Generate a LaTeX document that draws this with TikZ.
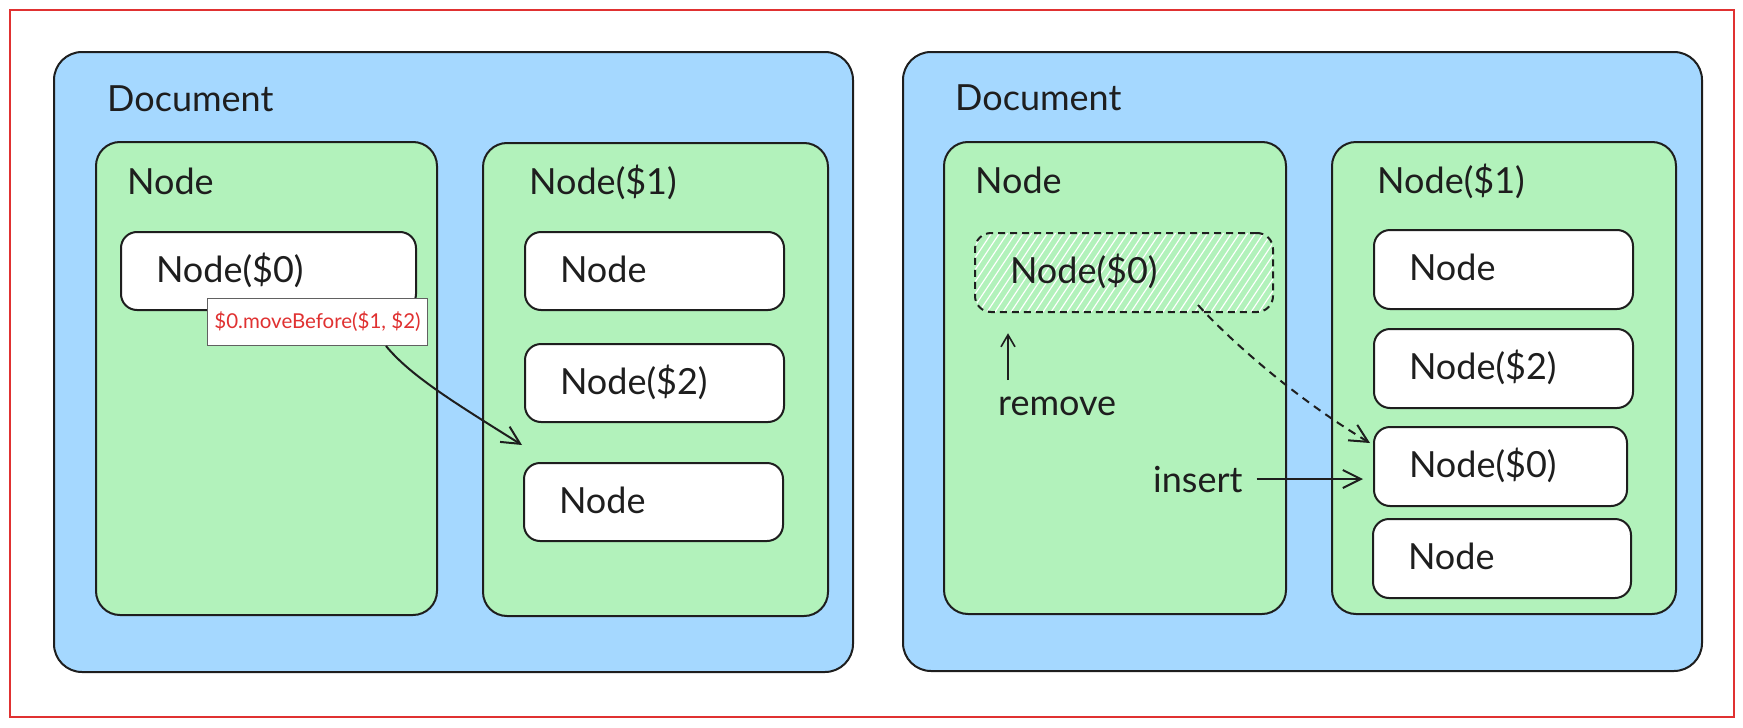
\documentclass[tikz,border=0pt]{standalone}
\usepackage{fontspec}
\setmainfont{Lato}
\usetikzlibrary{arrows.meta, positioning, calc}
\definecolor{docblue}{HTML}{A5D8FF}
\definecolor{nodegreen}{HTML}{B2F2BB}
\definecolor{ink}{HTML}{1E1E1E}
\definecolor{framered}{HTML}{E03131}

\tikzset{
  docbox/.style={draw=ink, fill=docblue, line width=2pt, rounded corners=28pt,
    anchor=north west, outer sep=0pt, inner sep=0pt},
  nodebox/.style={draw=ink, fill=nodegreen, line width=2pt, rounded corners=24pt,
    anchor=north west, outer sep=0pt, inner sep=0pt},
  itembox/.style={draw=ink, fill=white, line width=2pt, rounded corners=16pt,
    anchor=north west, outer sep=0pt, minimum height=78pt, text width=189pt,
    inner xsep=35pt, align=left, text=ink, font=\fontsize{36}{40}\selectfont,
    text height=28pt, text depth=6pt},
  ghostbox/.style={itembox, fill=nodegreen, dash pattern=on 7pt off 5pt,
    path picture={
      \foreach \k in {0,8,...,380}
        \draw[white, solid, line width=1.2pt] ([xshift=\k pt-60pt]path picture bounding box.south west) -- ++(60pt,90pt);
    }},
  title/.style={anchor=base west, inner sep=0pt, text=ink, font=\fontsize{36}{40}\selectfont},
  callout/.style={draw=ink!70, fill=white, line width=1pt, anchor=north west,
    minimum width=220pt, minimum height=47pt, inner sep=0pt, text=framered,
    font=\fontsize{20.5}{24}\selectfont},
  barb/.style={draw=ink, line width=2pt, -{Straight Barb[length=18pt,width=18pt]}}
}

\begin{document}
\begin{tikzpicture}[x=1pt, y=-1pt]
  \useasboundingbox (0,0) rectangle (1743,728);
  \draw[framered, line width=2.5pt] (10,10) rectangle (1734,717);

  % before: $0 still in the first node
  \node[docbox, minimum width=799pt, minimum height=620pt] (docL) at (54,52) {};
  \node[title] (docLt) at (107,111) {Document};
  \node[nodebox, minimum width=341pt, minimum height=473pt] (nodeL) at (96,142) {};
  \node[title] (nodeLt) at (127,194) {Node};
  \node[nodebox, minimum width=345pt, minimum height=473pt] (parL) at (483,143) {};
  \node[title] (parLt) at (529,194) {Node(\$1)};

  \node[itembox, text width=225pt] (srcL) at (121,232) {Node(\$0)};
  \node[itembox] (aL) at (525,232) {Node};
  \node[itembox] (bL) at (525,344) {Node(\$2)};
  \node[itembox] (cL) at (524,463) {Node};

  \node[callout] (call) at (207,298) {\$0.moveBefore(\$1, \$2)};
  \coordinate (tipL) at (522,445);
  \draw[barb] ([xshift=-42pt]call.south east) .. controls (410,375) and (450,400) .. (tipL);

  % after: removed and inserted before $2
  \node[docbox, minimum width=799pt, minimum height=619pt] (docR) at (903,52) {};
  \node[title] (docRt) at (955,110) {Document};
  \node[nodebox, minimum width=342pt, minimum height=472pt] (nodeR) at (944,142) {};
  \node[title] (nodeRt) at (975,193) {Node};
  \node[nodebox, minimum width=344pt, minimum height=472pt] (parR) at (1332,142) {};
  \node[title] (parRt) at (1377,193) {Node(\$1)};

  \node[ghostbox, text width=228pt, minimum height=79pt] (ghost) at (975,233) {Node(\$0)};
  \node[itembox, minimum height=79pt] (aR) at (1374,230) {Node};
  \node[itembox, minimum height=79pt] (bR) at (1374,329) {Node(\$2)};
  \node[itembox, minimum height=79pt, text width=183pt] (newR) at (1374,427) {Node(\$0)};
  \node[itembox, minimum height=79pt, text width=188pt] (dR) at (1373,519) {Node};

  \node[title] (rem) at (998,415) {remove};
  \node[title] (ins) at (1153,492) {insert};

  \draw[barb, line width=1.6pt, -{Straight Barb[length=12pt,width=14pt]}]
    ([xshift=10pt,yshift=16pt]rem.north west) -- ++(0pt,47pt);
  \draw[barb] ([xshift=14pt]ins.east) -- ([xshift=-11pt]ins.east -| newR.west);
  \coordinate (tipR) at (1370,443);
  \draw[barb, dash pattern=on 8pt off 6pt] ([shift={(74pt,7pt)}]ghost.south)
    .. controls (1225,335) and (1290,395) .. (tipR);
\end{tikzpicture}
\end{document}
